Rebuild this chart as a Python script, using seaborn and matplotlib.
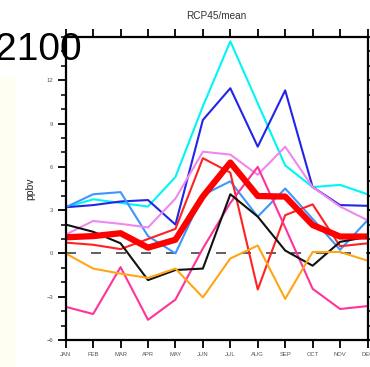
import matplotlib
matplotlib.use("Agg")
import matplotlib.pyplot as plt
from matplotlib.patches import Rectangle
from matplotlib.ticker import MultipleLocator
from matplotlib import font_manager
import numpy as np
import pandas as pd
import seaborn as sns

months = ["JAN", "FEB", "MAR", "APR", "MAY", "JUN",
          "JUL", "AUG", "SEP", "OCT", "NOV", "DEC"]

# monthly ozone change (ppbv) for each model, RCP45
cyan_vals = [3.2, 3.75, 3.5, 3.25, 5.3, 10.2, 14.7, 10.4, 6.1, 4.6, 4.75, 4.1]
blue_vals = [3.2, 3.35, 3.6, 3.7, 2.0, 9.25, 11.45, 7.4, 11.3, 4.6, 3.35, 3.3]
dodger_vals = [3.2, 4.1, 4.25, 1.2, 0.0, 4.05, 5.0, 2.55, 4.5, 2.4, 0.25, 2.3]
violet_vals = [1.3, 2.25, 2.05, 1.8, 3.8, 7.05, 6.85, 5.45, 7.4, 4.6, 3.25, 2.3]
red_vals = [0.75, 0.6, 0.3, 1.0, 1.7, 6.6, 5.6, -2.5, 2.65, 3.4, 0.5, 0.7]
pink_vals = [-3.7, -4.2, -0.95, -4.6, -3.2, 0.35, 3.5, 6.0, 1.8, -2.45, -3.85, -3.65]
black_vals = [2.0, 1.5, 0.7, -1.85, -1.15, -1.05, 4.1, 2.55, 0.2, -0.85, 0.8, 1.15]
orange_vals = [0.0, -1.05, -1.4, -1.7, -1.05, -3.05, -0.35, 0.55, -3.15, 0.1, 0.1, -0.5]
mean_vals = [1.12, 1.2, 1.4, 0.4, 0.95, 3.95, 6.3, 3.98, 3.94, 1.97, 1.17, 1.17]

series = {
    "cyan": cyan_vals,
    "blue": blue_vals,
    "dodger": dodger_vals,
    "violet": violet_vals,
    "red": red_vals,
    "pink": pink_vals,
    "black": black_vals,
    "orange": orange_vals,
}
colors = {
    "cyan": "#00F5F5",
    "blue": "#2424E8",
    "dodger": "#3C96FF",
    "violet": "#EE88EE",
    "red": "#FF2222",
    "pink": "#FF3399",
    "black": "#111111",
    "orange": "#FFA516",
}

rows = []
for name, vals in series.items():
    for i, v in enumerate(vals):
        rows.append({"model": name, "month": i, "value": v})
df = pd.DataFrame(rows)
mean_df = pd.DataFrame({"month": np.arange(len(months)), "value": mean_vals})

sns.set_theme(style="white")
plt.rcParams["font.family"] = ["Liberation Sans", "DejaVu Sans"]

# pick a narrow face for the large year label when one is installed
fonts = font_manager.fontManager.ttflist
names = {f.name for f in fonts}
big_kw = {"family": ["Liberation Sans", "DejaVu Sans"], "fontsize": 28}
if "Liberation Sans Narrow" in names:
    big_kw = {"family": ["Liberation Sans Narrow", "DejaVu Sans"], "fontsize": 33}

W, H = 370, 367
fig = plt.figure(figsize=(W / 100, H / 100), dpi=100)
fig.patch.set_facecolor("white")

# pale panel strip on the left edge
fig.patches.append(Rectangle((0, 0), 17 / W, (H - 77) / H, transform=fig.transFigure,
                             facecolor="#FFFEF2", edgecolor="none", zorder=0))

left, right, top, bottom = 65.7, 367.5, 37, 340
ax = fig.add_axes([left / W, (H - bottom) / H, (right - left) / W, (bottom - top) / H])
ax.set_facecolor("white")

sns.lineplot(data=df, x="month", y="value", hue="model", palette=colors,
             linewidth=1.5, legend=False, ax=ax, sort=False)
ax.axhline(0, color="#444444", linewidth=1.2, dashes=(6, 9), zorder=1.5)
sns.lineplot(data=mean_df, x="month", y="value", color="#FF0000",
             linewidth=4.5, ax=ax, sort=False)

ax.set_xlim(0, 11)
ax.set_ylim(-6, 15)
ax.set_xticks(range(len(months)))
ax.set_xticklabels(months)
ax.yaxis.set_major_locator(MultipleLocator(3))
ax.yaxis.set_minor_locator(MultipleLocator(1))
ax.set_yticks([-6, -3, 0, 3, 6, 9, 12])

for s in ax.spines.values():
    s.set_visible(True)
    s.set_color("black")
    s.set_linewidth(1.6)

ax.tick_params(axis="both", which="major", direction="out", length=6, width=1.3,
               color="black", labelsize=4.2, labelcolor="#555555", pad=3,
               top=True, right=True, bottom=True, left=True)
ax.tick_params(axis="y", which="minor", direction="out", length=3.5, width=1.1,
               color="black", left=True, right=True)
ax.tick_params(axis="x", which="both", labeltop=False)
ax.tick_params(axis="y", which="both", labelright=False)

ax.set_xlabel("")
ax.set_ylabel("ppbv", fontsize=7.5, color="#222222", labelpad=8)
ax.set_title("RCP45/mean", fontsize=7.2, color="#333333", pad=13)

fig.text(82 / W, 1 - 60 / H, "2100", color="black", ha="right", va="baseline",
         **big_kw)

fig.savefig("out.png", dpi=100)
